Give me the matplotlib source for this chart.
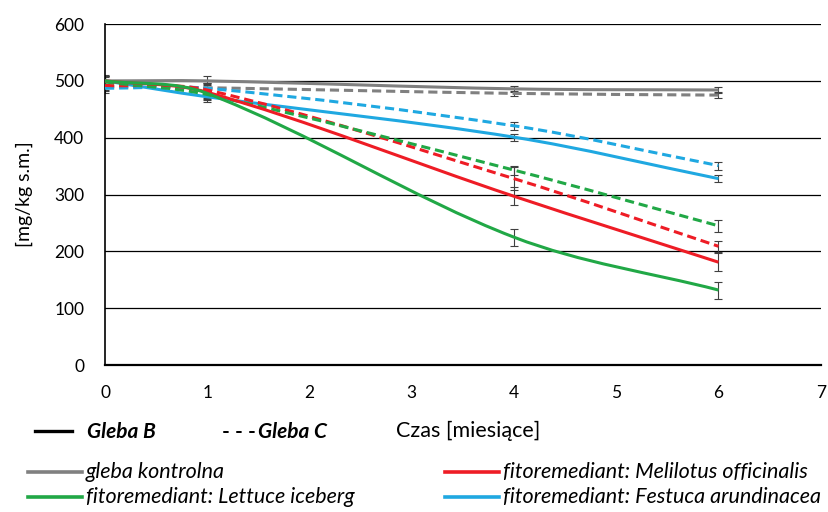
import numpy as np
import matplotlib
matplotlib.use("Agg")
import matplotlib.pyplot as plt
from matplotlib.path import Path
from matplotlib.patches import PathPatch
from matplotlib.lines import Line2D

plt.rcParams['font.family'] = ['Lato', 'DejaVu Sans']

# months of sampling
months = [0, 1, 4, 6]

# Gleba B (solid) / Gleba C (dashed)
control_b = [500, 500, 486, 484]
control_c = [490, 488, 478, 475]
melilotus_b = [500, 480, 297, 181]
melilotus_c = [492, 484, 328, 209]
lettuce_b = [500, 478, 225, 132]
lettuce_c = [498, 476, 343, 245]
festuca_b = [500, 472, 401, 328]
festuca_c = [487, 487, 421, 351]

# error bar half-widths
err_control_b = [10, 8, 5, 5]
err_control_c = [8, 8, 5, 5]
err_melilotus_b = [8, 10, 16, 16]
err_melilotus_c = [8, 10, 20, 10]
err_lettuce_b = [8, 10, 15, 15]
err_lettuce_c = [8, 10, 8, 10]
err_festuca_b = [8, 10, 6, 6]
err_festuca_c = [8, 10, 7, 7]

GRAY = '#808080'
RED = '#EE1C25'
GREEN = '#21A846'
BLUE = '#1FA8E1'


def smooth_path(x, y):
    # smoothed line drawn as cubic Bezier segments through the data points
    x = np.asarray(x, float)
    y = np.asarray(y, float)
    n = len(x)
    m = np.zeros(n)
    m[0] = (y[1] - y[0]) / (x[1] - x[0])
    m[-1] = (y[-1] - y[-2]) / (x[-1] - x[-2])
    for i in range(1, n - 1):
        m[i] = (y[i + 1] - y[i - 1]) / (x[i + 1] - x[i - 1])
    verts = [(x[0], y[0])]
    codes = [Path.MOVETO]
    for i in range(n - 1):
        h = (x[i + 1] - x[i]) / 3.0
        verts += [(x[i] + h, y[i] + m[i] * h),
                  (x[i + 1] - h, y[i + 1] - m[i + 1] * h),
                  (x[i + 1], y[i + 1])]
        codes += [Path.CURVE4] * 3
    return Path(verts, codes)


fig = plt.figure(figsize=(8.29, 5.12), dpi=100)
ax = fig.add_axes([0.1267, 0.287, 0.8633, 0.666])

series = [
    (control_b, err_control_b, GRAY, '-'),
    (control_c, err_control_c, GRAY, '--'),
    (festuca_b, err_festuca_b, BLUE, '-'),
    (festuca_c, err_festuca_c, BLUE, '--'),
    (melilotus_c, err_melilotus_c, RED, '--'),
    (lettuce_c, err_lettuce_c, GREEN, '--'),
    (melilotus_b, err_melilotus_b, RED, '-'),
    (lettuce_b, err_lettuce_b, GREEN, '-'),
]

for vals, errs, col, ls in series:
    ax.errorbar(months, vals, yerr=errs, fmt='none', ecolor='#404040',
                elinewidth=0.8, capsize=3, capthick=0.8, zorder=2)

for vals, errs, col, ls in series:
    patch = PathPatch(smooth_path(months, vals), facecolor='none', edgecolor=col,
                      linewidth=2.2, linestyle=(0, (3, 1.6)) if ls == '--' else '-',
                      zorder=3, capstyle='butt')
    ax.add_patch(patch)

ax.set_xlim(0, 7)
ax.set_ylim(0, 600)
ax.set_xticks(range(0, 8))
ax.set_yticks(range(0, 601, 100))
ax.yaxis.grid(True, color='black', linewidth=0.9)
ax.set_axisbelow(True)
for s in ['top', 'right']:
    ax.spines[s].set_visible(False)
ax.spines['left'].set_linewidth(1.2)
ax.spines['bottom'].set_linewidth(1.6)
ax.tick_params(axis='y', length=0, labelsize=12.5, pad=15)
ax.tick_params(axis='x', length=0, labelsize=12.5, pad=14)
ax.set_ylabel('[mg/kg s.m.]', fontsize=14)
ax.yaxis.set_label_coords(-0.1, 0.5)
ax.set_xlabel('Czas [miesiące]', fontsize=15.5)
ax.xaxis.set_label_coords(0.507, -0.165)

# legend drawn by hand to mimic the layout
W, H = 829.0, 512.0


def fx(px):
    return px / W


def fy(py):
    return 1 - py / H


fig.add_artist(Line2D([fx(35), fx(72)], [fy(431), fy(431)], color='black', lw=2.4))
fig.text(fx(87), fy(432), 'Gleba B', fontsize=15, fontweight='bold', style='italic', va='center')
fig.text(fx(222), fy(432), '- - -', fontsize=15, fontweight='bold', va='center')
fig.text(fx(258), fy(432), 'Gleba C', fontsize=15, fontweight='bold', style='italic', va='center')

legend_items = [
    (28, 472, GRAY, 'gleba kontrolna'),
    (445, 472, RED, 'fitoremediant: Melilotus officinalis'),
    (28, 497, GREEN, 'fitoremediant: Lettuce iceberg'),
    (445, 497, BLUE, 'fitoremediant: Festuca arundinacea'),
]
for x0, y0, col, label in legend_items:
    fig.add_artist(Line2D([fx(x0), fx(x0 + 54)], [fy(y0), fy(y0)], color=col, lw=2.6))
    fig.text(fx(x0 + 58), fy(y0), label, fontsize=15.5, style='italic', va='center')

fig.savefig('out.png', dpi=100)
